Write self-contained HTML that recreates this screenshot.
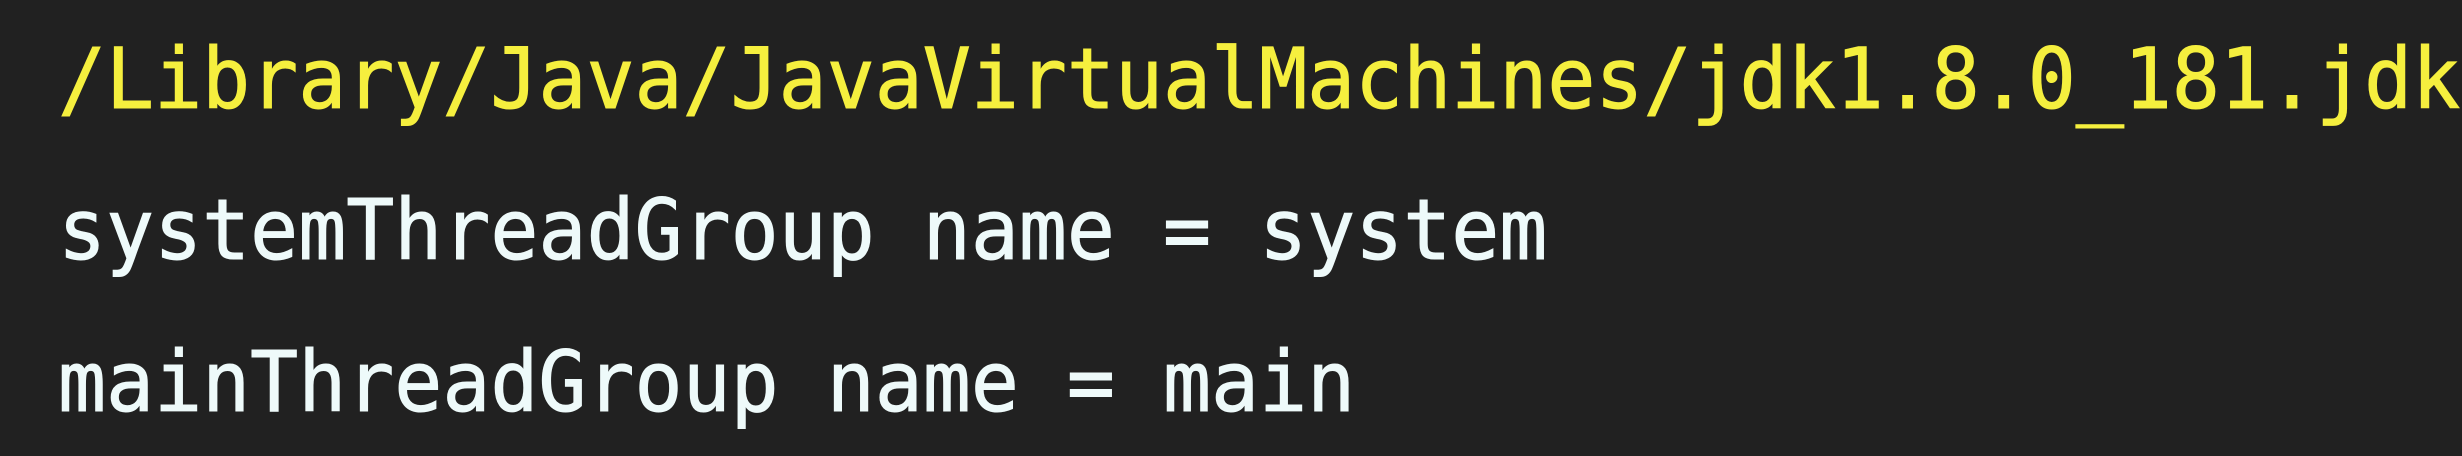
<!DOCTYPE html>
<html><head><style>
html,body{margin:0;padding:0;}
body{width:2462px;height:456px;background:#212121;overflow:hidden;position:relative;}
.wrap{position:absolute;left:0;top:0;width:2462px;height:456px;overflow:hidden;}
.l{position:absolute;left:58px;font-family:"DejaVu Sans Mono","Liberation Mono",monospace;font-size:84px;line-height:1;white-space:pre;transform-origin:0 0;transform:scaleX(0.95);color:#eefafa;-webkit-text-stroke:1px currentColor;}
.y{color:#f5ef3e;}
</style></head><body>
<div class="wrap">
<div class="l y" style="top:37px">/Library/Java/JavaVirtualMachines/jdk1.8.0_181.jdk</div>
<div class="l" style="top:188px">systemThreadGroup name = system</div>
<div class="l" style="top:340px">mainThreadGroup name = main</div>
</div>
</body></html>
